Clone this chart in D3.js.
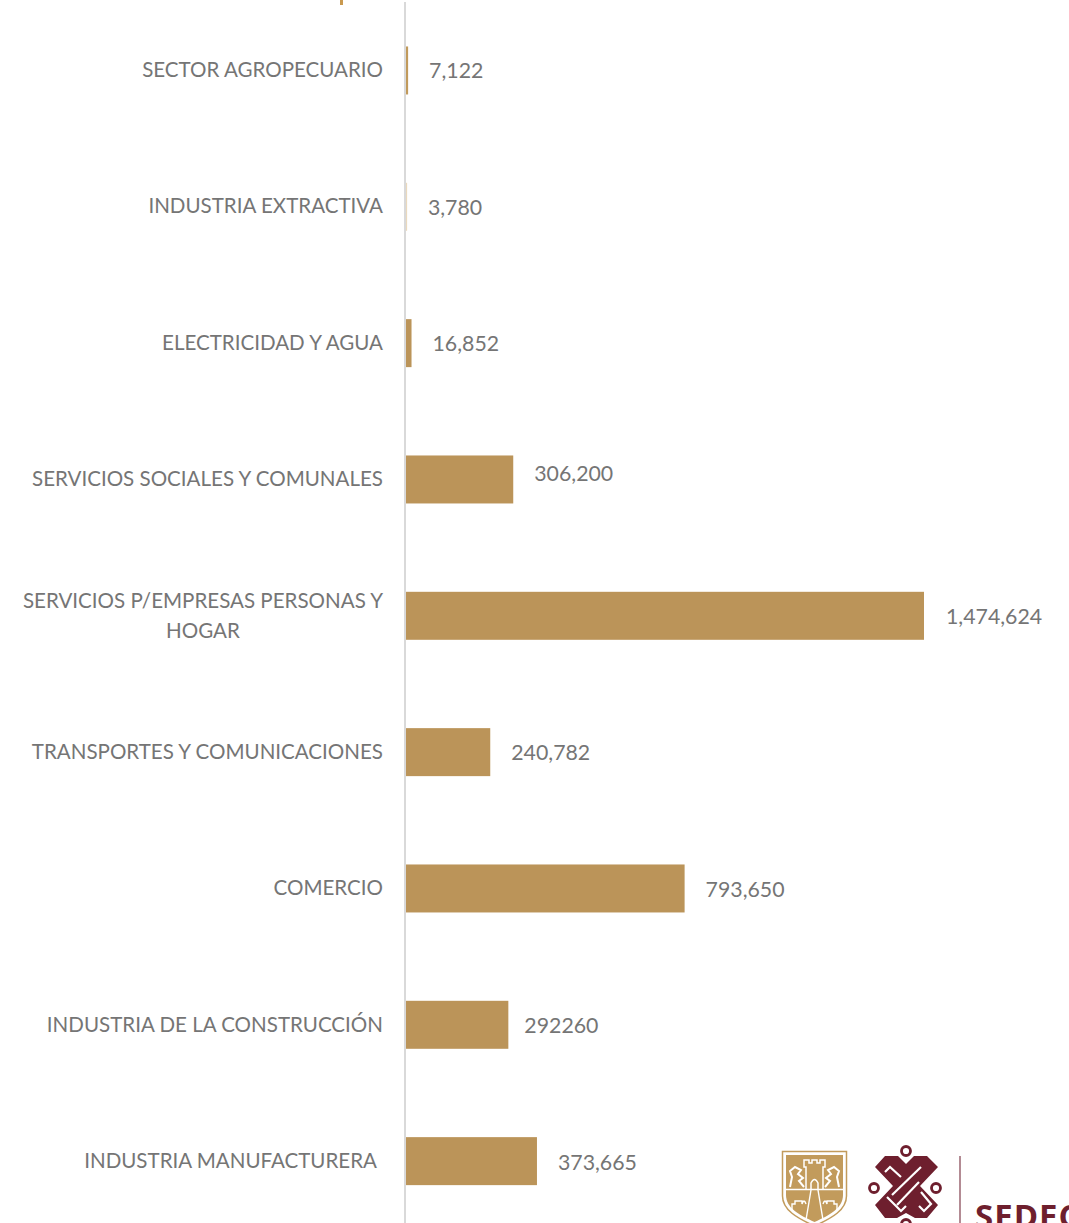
<!DOCTYPE html>
<html><head><meta charset="utf-8">
<script src="https://cdn.jsdelivr.net/npm/d3@7"></script>
<style>html,body{margin:0;padding:0;background:#fff;overflow:hidden}svg{display:block}text{font-family:Lato,"Open Sans",sans-serif}</style>
</head><body><svg id="c" width="1069" height="1223"></svg>
<script>
const categories=["SECTOR AGROPECUARIO","INDUSTRIA EXTRACTIVA","ELECTRICIDAD Y AGUA","SERVICIOS SOCIALES Y COMUNALES","SERVICIOS P/EMPRESAS PERSONAS Y HOGAR","TRANSPORTES Y COMUNICACIONES","COMERCIO","INDUSTRIA DE LA CONSTRUCCIÓN","INDUSTRIA MANUFACTURERA"];
const values=[7122,3780,16852,306200,1474624,240782,793650,292260,373665];
const valueLabels=["7,122","3,780","16,852","306,200","1,474,624","240,782","793,650","292260","373,665"];
const barColors=["#c19a5b","#ead9bd","#bb9459","#bb9459","#bb9459","#bb9459","#bb9459","#bb9459","#bb9459"];

const svg=d3.select("#c");
const x=d3.scaleLinear().domain([0,1474624]).range([405.6,924]);
const y=d3.scaleBand().domain(categories).range([2.3,1229.3]).paddingInner(0.648).paddingOuter(0.324);
const textCol="#757575",catSize=20.55,valSize=21.3;

svg.append("rect").attr("x",340).attr("y",0).attr("width",3).attr("height",5).attr("fill","#c9994f");

svg.selectAll("rect.bar").data(categories).join("rect").attr("class","bar")
 .attr("x",x(0)).attr("y",d=>y(d)).attr("height",y.bandwidth())
 .attr("width",(d,i)=>Math.max(x(values[i])-x(0),1.5)).attr("fill",(d,i)=>barColors[i]);

svg.append("line").attr("x1",405).attr("x2",405).attr("y1",2).attr("y2",1223).attr("stroke","#d9d9d9").attr("stroke-width",2);

const catText=(tx,ty,anchor,s)=>svg.append("text").attr("fill",textCol).attr("font-size",catSize).attr("text-anchor",anchor).attr("x",tx).attr("y",ty).text(s);
const catDy=[7,6,7,7,0,7,7,7,7];
categories.forEach((c,i)=>{
  const cy=y(c)+y.bandwidth()/2;
  if(c.endsWith("Y HOGAR")){
    catText(203,cy-8,"middle","SERVICIOS P/EMPRESAS PERSONAS Y");
    catText(203,cy+22,"middle","HOGAR");
  } else {
    catText(c==="INDUSTRIA MANUFACTURERA"?377:383,cy+catDy[i],"end",c);
  }
});

const labelDy=[8,8,8,1.5,8,8,9,8,9];
const labelDx=[21,21,21,21,22,21,21,16,21];
values.forEach((v,i)=>{
  svg.append("text").attr("fill",textCol).attr("font-size",valSize)
   .attr("x",x(v)+labelDx[i]).attr("y",y(categories[i])+y.bandwidth()/2+labelDy[i]).text(valueLabels[i]);
});

// logo: shield
const gold="#c29b5c",maroon="#6e1f2e";
const logo=svg.append("g");
logo.append("path").attr("d","M782.5 1151.5H846.5V1196C846.5 1210 832 1218 814.5 1226C797 1218 782.5 1210 782.5 1196Z").attr("fill","#fff").attr("stroke",gold).attr("stroke-width",1.5);
logo.append("path").attr("d","M786 1155H843V1195C843 1208 830 1215 814.5 1222C799 1215 786 1208 786 1195Z").attr("fill",gold);
logo.append("line").attr("x1",786).attr("x2",843).attr("y1",1189.5).attr("y2",1189.5).attr("stroke","#fff").attr("stroke-width",1.4);
logo.append("path").attr("d","M806 1189V1167H804V1160H809V1163H812V1160H817V1163H820V1160H825V1167H823V1189M811 1189V1183Q814.5 1176 818 1183V1189").attr("fill","none").attr("stroke","#fff").attr("stroke-width",1.5);
logo.append("path").attr("d","M790 1187L792 1177L790 1171L795 1167L801 1170L798 1174L803 1178L799 1181L804 1187M839 1187L837 1177L839 1171L834 1167L828 1170L831 1174L826 1178L830 1181L825 1187").attr("fill","none").attr("stroke","#fff").attr("stroke-width",2);
logo.append("path").attr("d","M811 1190L806 1220M818 1190L823 1220M792 1210V1204H795V1201H802V1204Q804 1198 806 1204M837 1210V1204H834V1201H827V1204Q825 1198 823 1204").attr("fill","none").attr("stroke","#fff").attr("stroke-width",1.4);

// logo: knot
const knot=logo.append("g");
[[906,1151],[874,1188],[936,1188],[906,1224]].forEach(p=>knot.append("circle").attr("cx",p[0]).attr("cy",p[1]).attr("r",4.5).attr("fill","none").attr("stroke",maroon).attr("stroke-width",2.8));
knot.append("path").attr("d","M875 1167L885 1156H898L906 1164L914 1156H927L938 1167L920 1186L938 1205L927 1218H915L906 1213L897 1218H885L875 1205L893 1186Z").attr("fill",maroon);
["M885 1172L890 1167L901 1177","M921 1167L892 1195","M919 1182L897 1205","M887 1197L901 1211L906 1206","M921 1192L931 1204L924 1211L919 1206"]
 .forEach(d=>knot.append("path").attr("d",d).attr("fill","none").attr("stroke","#fff").attr("stroke-width",2.2));

logo.append("line").attr("x1",960).attr("x2",960).attr("y1",1156).attr("y2",1223).attr("stroke","#9a6570").attr("stroke-width",1.5);
logo.append("text").attr("x",975).attr("y",1228).attr("fill",maroon).attr("font-size",33).attr("font-weight",700).attr("letter-spacing",1).attr("style","font-family:'Open Sans',sans-serif").text("SEDECO");
</script></body></html>
